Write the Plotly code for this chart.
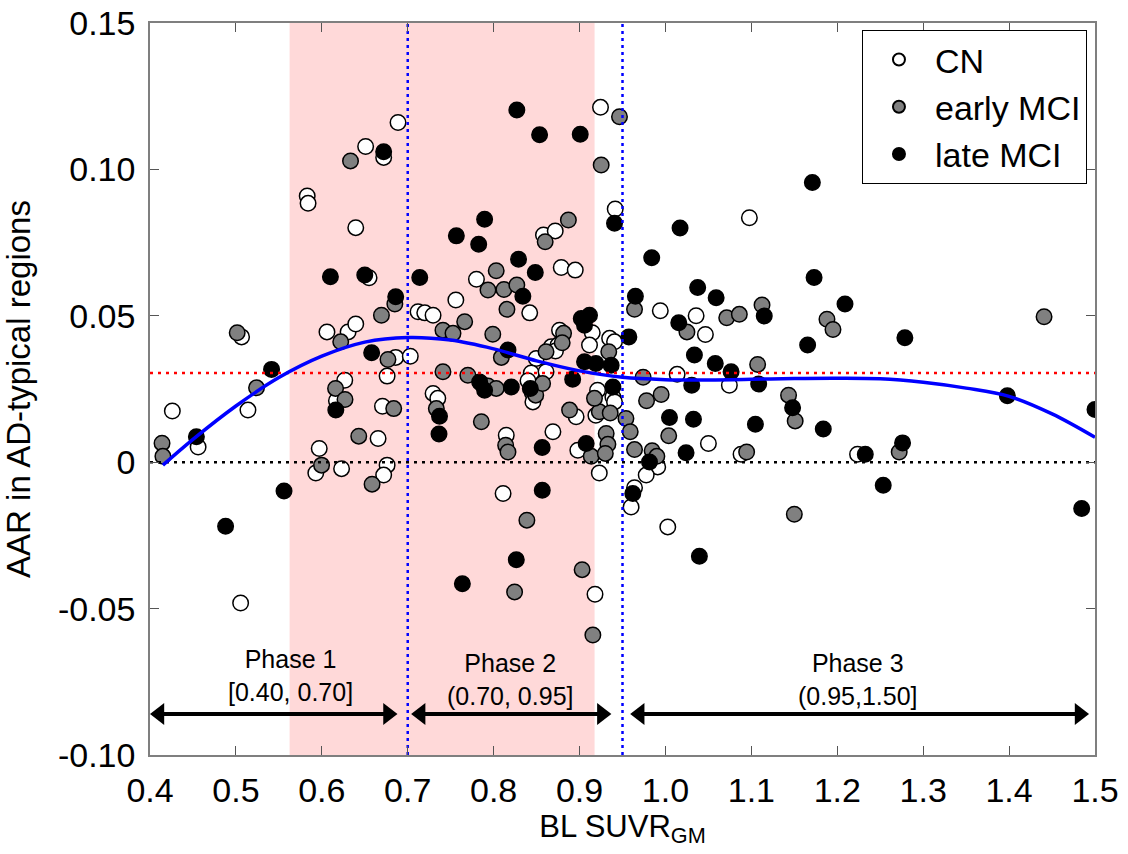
import plotly.graph_objects as go

# ---------------- data ----------------
cn_x = [0.426, 0.456, 0.5066, 0.514, 0.5055, 0.606, 0.6306, 0.6395, 0.686, 0.703, 0.676, 0.6267, 0.617,
        0.6706, 0.6655, 0.597, 0.593, 0.623, 0.676, 0.672, 0.6887, 0.651, 0.672, 0.583, 0.584, 0.6395,
        0.655, 0.9244, 0.9415, 0.858, 0.8717, 0.8787, 0.895, 0.780, 0.756, 1.0977, 0.994, 1.0357, 1.0465,
        1.0136, 1.0744, 1.050, 1.088, 1.2236, 1.0027, 0.991, 0.9776, 0.842, 0.712, 0.7198, 0.7295, 0.8767,
        0.9148, 0.9116, 0.935, 0.9407, 0.867, 0.875, 0.872, 0.8496, 0.8438, 0.861, 0.7295, 0.735, 0.845,
        0.8457, 0.84, 0.896, 0.869, 0.8147, 0.898, 0.919, 0.921, 0.9388, 0.9407, 0.964, 0.960, 0.923,
        0.811, 0.918]
cn_y = [0.0175, 0.0052, 0.0428, 0.0178, -0.0481, 0.0445, 0.0445, 0.0472, 0.0358, 0.0362, 0.0294, 0.028,
        0.021, 0.0191, 0.0081, 0.0047, -0.0037, -0.0022, -0.001, -0.0044, 0.116, 0.1078, 0.1041, 0.0909,
        0.0884, 0.0801, 0.063, 0.1212, 0.0865, 0.0776, 0.079, 0.0665, 0.0656, 0.0625, 0.0554, 0.0835,
        0.0517, 0.05, 0.0436, 0.03, 0.0263, 0.0064, 0.0027, 0.0027, -0.0221, -0.0016, -0.0044, 0.051,
        0.0514, 0.051, 0.0502, 0.0451, 0.0442, 0.04, 0.0423, 0.0411, 0.0394, 0.04, 0.038, 0.0354, 0.0305,
        0.0309, 0.0235, 0.0218, 0.0237, 0.0206, 0.0278, 0.0155, 0.0104, 0.0092, 0.0041, 0.016, 0.0246,
        0.0223, 0.0206, -0.0087, -0.0153, -0.0037, -0.0107, -0.0451]

emci_x = [0.414, 0.415, 0.5015, 0.524, 0.622, 0.6694, 0.685, 0.677, 0.616, 0.627, 0.6837, 0.643, 0.5997,
          0.6585, 0.6334, 0.9465, 0.9252, 0.887, 0.860, 0.803, 0.7934, 0.812, 0.827, 1.1124, 1.0713, 1.086,
          1.025, 1.188, 1.195, 1.4407, 1.1073, 0.978, 0.995, 1.1433, 1.151, 1.0038, 1.0945, 1.2721, 1.15,
          0.9845, 0.99, 0.974, 0.8155, 0.7663, 0.741, 0.7527, 0.799, 0.8814, 0.8798, 0.934, 0.964, 0.861,
          0.809, 0.741, 0.770, 0.7857, 0.7934, 0.803, 0.7333, 0.7857, 0.849, 0.857, 0.8884, 0.814, 0.8167,
          0.9136, 0.923, 0.9174, 0.931, 0.933, 0.930, 0.9357, 0.954, 0.959, 0.964, 0.8387, 0.903, 0.8244,
          0.9155]
emci_y = [0.0065, 0.002, 0.0442, 0.0254, 0.0411, 0.0502, 0.054, 0.0351, 0.0252, 0.0214, 0.0183, 0.0089,
          -0.001, -0.0075, 0.1029, 0.118, 0.1015, 0.0827, 0.0753, 0.0654, 0.0588, 0.059, 0.0605, 0.0537,
          0.0493, 0.0505, 0.0445, 0.0488, 0.0453, 0.0497, 0.0334, 0.021, 0.0231, 0.0229, 0.0141, 0.009,
          0.0035, 0.0035, -0.0178, 0.0039, 0.002, 0.029, 0.0522, 0.048, 0.0451, 0.044, 0.0437, 0.044,
          0.0408, 0.0377, 0.0522, 0.0377, 0.0358, 0.0309, 0.0297, 0.0269, 0.026, 0.0252, 0.0183, 0.0138,
          0.0229, 0.0269, 0.0178, 0.0058, 0.0035, 0.002, 0.0172, 0.0218, 0.0098, 0.0061, 0.003, 0.0168,
          0.0149, 0.0104, 0.0043, -0.0198, -0.0367, -0.0443, -0.059]

lmci_x = [0.454, 0.488, 0.5415, 0.556, 0.658, 0.686, 0.6163, 0.672, 0.61, 0.65, 0.714, 0.827, 0.8535,
          0.9008, 0.9407, 0.7895, 0.7566, 0.7826, 0.829, 0.8485, 0.834, 0.965, 1.017, 0.984, 1.0375, 1.171,
          1.173, 1.059, 1.209, 1.115, 1.0155, 1.1655, 1.2787, 1.0337, 1.058, 1.0764, 1.0306, 1.1085, 1.148,
          1.0047, 1.0326, 1.1047, 1.1837, 1.024, 1.2326, 1.276, 1.398, 1.5, 1.2535, 1.4845, 1.0395, 0.9814,
          0.902, 0.9116, 0.9058, 0.9574, 0.8167, 0.892, 0.9058, 0.919, 0.9368, 0.7837, 0.7895, 0.8206,
          0.737, 0.7364, 0.8427, 0.8565, 0.9077, 0.9388, 0.962, 0.8566, 0.8264, 0.7636]
lmci_y = [0.0087, -0.0219, 0.0317, -0.0098, 0.0374, 0.0565, 0.0178, 0.106, 0.0633, 0.0639, 0.0631, 0.1203,
          0.1118, 0.112, 0.0816, 0.083, 0.0773, 0.0744, 0.0693, 0.0648, 0.0567, 0.0567, 0.080, 0.0698,
          0.0597, 0.0955, 0.0631, 0.0562, 0.054, 0.0499, 0.0476, 0.040, 0.0425, 0.0366, 0.0337, 0.0309,
          0.0263, 0.0267, 0.0186, 0.0153, 0.0147, 0.013, 0.0113, 0.0032, 0.0027, 0.0066, 0.0227, 0.018,
          -0.0079, -0.0158, -0.0321, 0.0001, 0.0491, 0.0502, 0.0468, 0.0428, 0.0383, 0.0283, 0.0343, 0.0337,
          0.0331, 0.0274, 0.0246, 0.0257, 0.0157, 0.0096, 0.0252, 0.005, 0.0064, 0.0257, -0.0107, -0.0096,
          -0.0333, -0.0415]

fit_x = [0.415, 0.45, 0.5, 0.55, 0.6, 0.65, 0.7, 0.75, 0.8, 0.85, 0.9, 0.95, 1.0, 1.05, 1.1, 1.15, 1.2,
         1.25, 1.3, 1.35, 1.4, 1.45, 1.5]
fit_y = [-0.001, 0.0078, 0.0192, 0.0289, 0.0362, 0.041, 0.0426, 0.0417, 0.0387, 0.0346, 0.0312, 0.029,
         0.0282, 0.0281, 0.0283, 0.0286, 0.0287, 0.0285, 0.0273, 0.0253, 0.0225, 0.0165, 0.0085]

mean_aar = 0.0305
phase_bounds = [0.40, 0.70, 0.95, 1.50]
phase_names = ["Phase 1", "Phase 2", "Phase 3"]
phase_ranges = ["[0.40, 0.70]", "(0.70, 0.95]", "(0.95,1.50]"]
shade_range = [0.5625, 0.9175]

x_ticks = [0.4, 0.5, 0.6, 0.7, 0.8, 0.9, 1.0, 1.1, 1.2, 1.3, 1.4, 1.5]
x_ticklabels = ["0.4", "0.5", "0.6", "0.7", "0.8", "0.9", "1.0", "1.1", "1.2", "1.3", "1.4", "1.5"]
y_ticks = [-0.10, -0.05, 0.0, 0.05, 0.10, 0.15]
y_ticklabels = ["-0.10", "-0.05", "0", "0.05", "0.10", "0.15"]

# ---------------- figure ----------------
FONT = "Liberation Sans, Arial, Helvetica, sans-serif"
XMIN, XMAX, YMIN, YMAX = 0.4, 1.5, -0.10, 0.15

fig = go.Figure()

mk = dict(size=15.5, line=dict(color="black", width=1.5))
fig.add_trace(go.Scatter(x=cn_x, y=cn_y, mode="markers", name="CN",
                         marker=dict(color="white", **mk)))
fig.add_trace(go.Scatter(x=emci_x, y=emci_y, mode="markers", name="early MCI",
                         marker=dict(color="#808080", **mk)))
fig.add_trace(go.Scatter(x=lmci_x, y=lmci_y, mode="markers", name="late MCI",
                         marker=dict(color="black", **mk)))

# reference lines
fig.add_trace(go.Scatter(x=[XMIN, XMAX], y=[0, 0], mode="lines", showlegend=False,
                         line=dict(color="black", width=2.5, dash="3px,5px"), hoverinfo="skip"))
fig.add_trace(go.Scatter(x=[XMIN, XMAX], y=[mean_aar, mean_aar], mode="lines", showlegend=False,
                         line=dict(color="red", width=2.5, dash="3px,5px"), hoverinfo="skip"))
for b in phase_bounds[1:3]:
    fig.add_trace(go.Scatter(x=[b, b], y=[YMIN, YMAX], mode="lines", showlegend=False,
                             line=dict(color="blue", width=2.5, dash="3px,4px"), hoverinfo="skip"))

# fitted curve
fig.add_trace(go.Scatter(x=fit_x, y=fit_y, mode="lines", showlegend=False, line_shape="spline",
                         line=dict(color="blue", width=3.5), hoverinfo="skip"))

# shaded region
fig.add_shape(type="rect", xref="x", yref="y", x0=shade_range[0], x1=shade_range[1],
              y0=YMIN, y1=YMAX, fillcolor="#FFD9D9", line=dict(width=0), layer="below")

# phase arrows (double-headed) and labels
arrow_y = -0.086
head = 0.011          # half arrow-head width in x units
gap_l = [0.0, 0.004, 0.009]
gap_r = [0.012, 0.013, 0.007]
label_y = [-0.0728, -0.0742, -0.0742]
label_x = [0.564, 0.8186, 1.2244]
for i in range(3):
    a, b = phase_bounds[i], phase_bounds[i + 1]
    x0 = a + gap_l[i] + head
    x1 = b - gap_r[i] - head
    fig.add_trace(go.Scatter(x=[x0, x1], y=[arrow_y, arrow_y], mode="lines", showlegend=False,
                             line=dict(color="black", width=4), hoverinfo="skip"))
    fig.add_trace(go.Scatter(x=[x0, x1], y=[arrow_y, arrow_y], mode="markers", showlegend=False,
                             marker=dict(symbol=["triangle-left", "triangle-right"], size=19,
                                         color="black", line=dict(width=0)),
                             hoverinfo="skip"))
    fig.add_annotation(x=label_x[i], y=label_y[i], xref="x", yref="y",
                       text=f"{phase_names[i]}<br>{phase_ranges[i]}", showarrow=False,
                       font=dict(family=FONT, size=25, color="black"), align="center")

axis_common = dict(showline=True, linecolor="#7f7f7f", linewidth=1.5, mirror="ticks",
                   ticks="inside", ticklen=9, tickcolor="#555555", tickwidth=1,
                   showgrid=False, zeroline=False,
                   tickfont=dict(family=FONT, size=34, color="black"))

fig.update_xaxes(range=[XMIN, XMAX], tickvals=x_ticks, ticktext=x_ticklabels,
                 title=dict(text="BL SUVR<sub>GM</sub>", standoff=4,
                            font=dict(family=FONT, size=31, color="black")),
                 ticklabelstandoff=4, **axis_common)
fig.update_yaxes(range=[YMIN, YMAX], tickvals=y_ticks, ticktext=y_ticklabels,
                 title=dict(text="AAR in AD-typical regions", standoff=18,
                            font=dict(family=FONT, size=33, color="black")),
                 ticklabelstandoff=6, **axis_common)

fig.update_layout(
    width=1128, height=854,
    margin=dict(l=150, r=33, t=23, b=99, autoexpand=False),
    paper_bgcolor="white", plot_bgcolor="white",
    font=dict(family=FONT, color="black"),
    legend=dict(x=0.9915, y=0.9905, xanchor="right", yanchor="top",
                bgcolor="white", bordercolor="black", borderwidth=1,
                font=dict(family=FONT, size=34, color="black"),
                itemsizing="constant", itemwidth=62, tracegroupgap=0),
    showlegend=True,
)

fig.write_html("out.html")
